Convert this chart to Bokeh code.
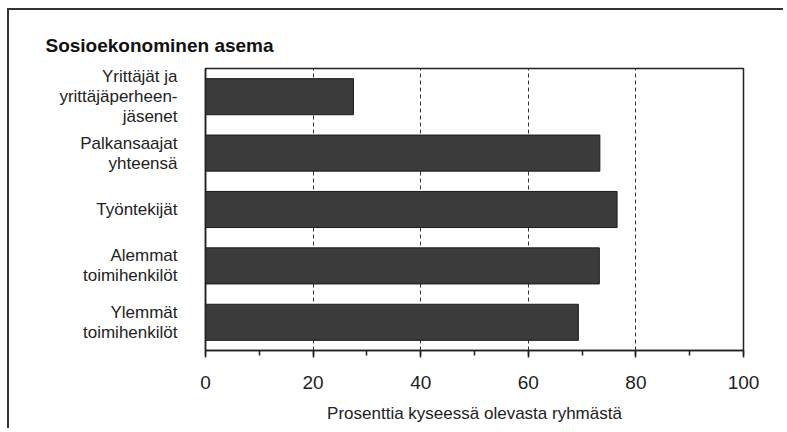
from bokeh.plotting import figure
from bokeh.models import Range1d, FactorRange, SingleIntervalTicker, ColumnDataSource
from bokeh.embed import file_html
from bokeh.resources import INLINE

categories = ["Yrittäjät ja\nyrittäjäperheen-\njäsenet", "Palkansaajat\nyhteensä", "Työntekijät",
              "Alemmat\ntoimihenkilöt", "Ylemmät\ntoimihenkilöt"]
values = [27.5, 73.3, 76.5, 73.2, 69.3]
title_text = "Sosioekonominen asema"
x_label = "Prosenttia kyseessä olevasta ryhmästä"

FONT = "Liberation Sans"

source = ColumnDataSource(dict(cat=categories, val=values))

p = figure(width=776, height=420, output_backend="svg", toolbar_location=None,
           x_range=Range1d(0, 100), y_range=FactorRange(factors=list(reversed(categories)), range_padding=0),
           min_border_left=196, min_border_right=42, min_border_top=58, min_border_bottom=80)
p.styles = {"border-left": "2px solid #333", "border-top": "2px solid #333",
            "margin-left": "7px", "margin-top": "8px"}

p.title.text = title_text
p.title.text_font = FONT
p.title.text_font_size = "19px"
p.title.text_font_style = "bold"
p.title.text_color = "#111111"
p.title.align = "left"
p.title.offset = -160
p.title.standoff = 25

p.hbar(y="cat", right="val", left=0, height=0.64, source=source,
       fill_color="#3b3b3b", line_color="#1a1a1a", line_width=1)

p.background_fill_color = "white"
p.border_fill_color = "white"
p.outline_line_color = "#222222"
p.outline_line_width = 1.5

p.xgrid.ticker = SingleIntervalTicker(interval=20, num_minor_ticks=2)
p.xgrid.grid_line_color = "#333333"
p.xgrid.grid_line_dash = "4 3"
p.xgrid.grid_line_width = 1
p.ygrid.grid_line_color = None

xa = p.xaxis[0]
xa.ticker = SingleIntervalTicker(interval=20, num_minor_ticks=2)
xa.axis_line_color = "#222222"
xa.axis_line_width = 1.5
xa.major_tick_line_color = "#222222"
xa.major_tick_line_width = 1.5
xa.major_tick_in = 0
xa.major_tick_out = 7
xa.minor_tick_line_color = "#222222"
xa.minor_tick_line_width = 1.5
xa.minor_tick_in = 0
xa.minor_tick_out = 5
xa.major_label_text_font = FONT
xa.major_label_text_font_size = "19px"
xa.major_label_text_color = "#222222"
xa.major_label_standoff = 18
xa.axis_label = x_label
xa.axis_label_text_font = FONT
xa.axis_label_text_font_size = "17px"
xa.axis_label_text_font_style = "normal"
xa.axis_label_text_color = "#222222"
xa.axis_label_standoff = 12

ya = p.yaxis[0]
ya.axis_line_color = "#222222"
ya.axis_line_width = 1.5
ya.major_tick_line_color = None
ya.minor_tick_line_color = None
ya.major_label_text_font = FONT
ya.major_label_text_font_size = "17px"
ya.major_label_text_line_height = 1.05
ya.major_label_text_color = "#222222"
ya.major_label_text_align = "center"
ya.major_label_standoff = 22

open("out.html", "w").write(file_html(p, INLINE))
